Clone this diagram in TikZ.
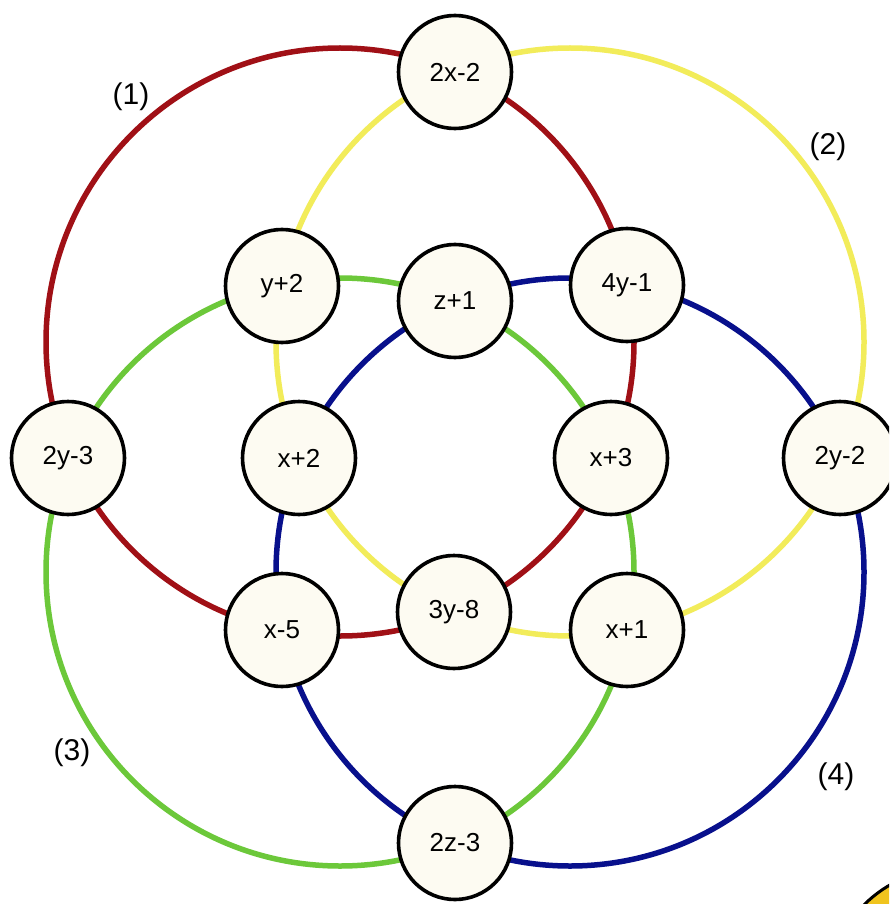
\documentclass[tikz,border=0pt]{standalone}
\usepackage{fontspec}
\setmainfont{Liberation Sans}
\definecolor{ringred}{RGB}{160,16,22}
\definecolor{ringyel}{RGB}{242,236,90}
\definecolor{ringgrn}{RGB}{108,200,58}
\definecolor{ringblu}{RGB}{8,16,140}
\definecolor{nodefill}{RGB}{253,251,242}
\definecolor{logoyel}{RGB}{240,196,30}
\begin{document}
\begin{tikzpicture}[x=1pt,y=-1pt,
  num/.style={circle, draw=black, line width=3.6pt, fill=nodefill, minimum size=113pt, inner sep=0pt, font=\fontsize{26}{30}\selectfont},
  ring/.style={line width=5.5pt},
  lab/.style={font=\fontsize{30}{34}\selectfont}]
\clip (0,0) rectangle (889,904);
\fill[white] (0,0) rectangle (889,904);
% ring centres
\coordinate (cR) at (340,342);
\coordinate (cY) at (570,342);
\coordinate (cG) at (340,572);
\coordinate (cB) at (570,572);
\draw[ring, ringred] (cR) circle[radius=294pt];
\draw[ring, ringyel] (cY) circle[radius=294pt];
\draw[ring, ringgrn] (cG) circle[radius=294pt];
\draw[ring, ringblu] (cB) circle[radius=294pt];
% nodes
\node[num] (n2xm2) at (455,72) {2x-2};
\node[num] (nyp2) at (282,286) {y+2};
\node[num] (nzp1) at (455,301) {z+1};
\node[num] (n4ym1) at (627,285) {4y-1};
\node[num] (n2ym3) at (68,458) {2y-3};
\node[num] (nxp2) at (299,458) {x+2};
\node[num] (nxp3) at (611,458) {x+3};
\node[num] (n2ym2) at (840,458) {2y-2};
\node[num] (nxm5) at (282,630) {x-5};
\node[num] (n3ym8) at (454,612) {3y-8};
\node[num] (nxp1) at (627,630) {x+1};
\node[num] (n2zm3) at (455,843) {2z-3};
% ring labels
\node[lab] (l1) at (131,97) {(1)};
\node[lab] (l2) at (828,147) {(2)};
\node[lab] (l3) at (72,753) {(3)};
\node[lab] (l4) at (836,777) {(4)};
% corner logo fragment
\filldraw[fill=logoyel, draw=black, line width=3pt] (950,990) circle[radius=121pt];
\end{tikzpicture}
\end{document}
